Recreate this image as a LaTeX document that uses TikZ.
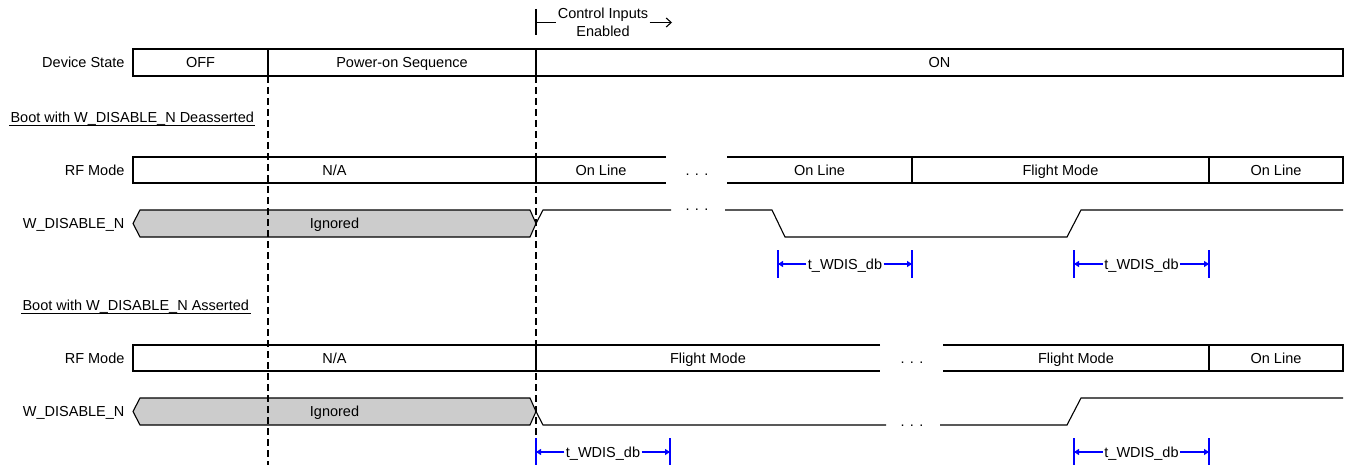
\documentclass[tikz,border=0pt]{standalone}
\usepackage{fontspec}
\setmainfont{Liberation Sans}
\usetikzlibrary{arrows.meta}

\definecolor{ignoredgray}{RGB}{204,204,204}

\begin{document}
\begin{tikzpicture}[x=1pt,y=-1pt,line width=1.1pt,
        every node/.style={font=\fontsize{14.5}{17.5}\selectfont,inner sep=1pt},
        lbl/.style={text height=10.4pt,text depth=0pt},
        rowname/.style={lbl,anchor=east},
        dashline/.style={dash pattern=on 7pt off 4pt},
        tick/.style={blue},
        tarrow/.style={blue,arrows = -{Triangle[length=5pt,width=6pt]}}]

        %\draw [help lines] (0,0) grid (1347,468);
        \useasboundingbox (0,0) rectangle (1347,468);

        % ignored spans, under the texts
        \draw[fill=ignoredgray] (133,223.5) -- (140,210) -- (530,210) -- (536,223.5) -- (530,237) -- (140,237) -- cycle;
        \draw[fill=ignoredgray] (133,411.5) -- (140,398) -- (530,398) -- (536,411.5) -- (530,425) -- (140,425) -- cycle;

        \path   (603,22.5) node (ctrl) [align=center] {Control Inputs\\Enabled}
                (126,62.5) node (dsname) [rowname] {Device State}
                (200.5,62.5) node (off) [lbl] {OFF}
                (402,62.5) node (pwr) [lbl] {Power-on Sequence}
                (939.5,62.5) node (on) [lbl] {ON}
                (9,117) node (boota) [lbl,anchor=west] {Boot with W\_DISABLE\_N Deasserted}
                (126,170) node (rfa) [rowname] {RF Mode}
                (334.5,170) node (naa) [lbl] {N/A}
                (601,170) node (onla) [lbl] {On Line}
                (697,170) node (dotsa) [lbl] {. . .}
                (819.5,170) node (onlb) [lbl] {On Line}
                (1060.5,170) node (fma) [lbl] {Flight Mode}
                (1276,170) node (onlc) [lbl] {On Line}
                (126,223.5) node (wda) [rowname] {W\_DISABLE\_N}
                (334.5,223.5) node (igna) [lbl] {Ignored}
                (697,205) node (dotsb) [lbl] {. . .}
                (845,264) node (twa) [lbl] {t\_WDIS\_db}
                (1141.5,264) node (twb) [lbl] {t\_WDIS\_db}
                (21,305) node (bootb) [lbl,anchor=west] {Boot with W\_DISABLE\_N Asserted}
                (126,358) node (rfb) [rowname] {RF Mode}
                (334.5,358) node (nab) [lbl] {N/A}
                (708,358) node (fmb) [lbl] {Flight Mode}
                (912,358) node (dotsc) [lbl] {. . .}
                (1076,358) node (fmc) [lbl] {Flight Mode}
                (1276,358) node (onld) [lbl] {On Line}
                (126,411.5) node (wdb) [rowname] {W\_DISABLE\_N}
                (334.5,411.5) node (ignb) [lbl] {Ignored}
                (912,421) node (dotsd) [lbl] {. . .}
                (603,452) node (twc) [lbl] {t\_WDIS\_db}
                (1141.5,452) node (twd) [lbl] {t\_WDIS\_db};

        \coordinate (ctrlbar) at (536,22.5);
        \coordinate (ctrlend) at (672,22.5);
        \coordinate (twal) at (778,264);
        \coordinate (twar) at (912,264);
        \coordinate (twbl) at (1074,264);
        \coordinate (twbr) at (1209,264);
        \coordinate (twcl) at (536,452);
        \coordinate (twcr) at (670,452);
        \coordinate (twdl) at (1074,452);
        \coordinate (twdr) at (1209,452);

        % control inputs marker
        \draw (536,9) -- (536,35);
        \draw (ctrlbar) -- (ctrl.west);
        \draw[arrows = -{Straight Barb[length=5pt,width=9pt]}] (ctrl.east) -- (ctrlend);

        % underlines
        \draw ([yshift=-3pt]boota.base west) -- ([yshift=-3pt]boota.base east);
        \draw ([yshift=-3pt]bootb.base west) -- ([yshift=-3pt]bootb.base east);

        % device state
        \draw (133,49) rectangle (1343,76);
        \draw (268,49) -- (268,76) (536,49) -- (536,76);
        \draw[dashline] (268,76) -- (268,465);
        \draw[dashline] (536,76) -- (536,465);

        % rf mode, deasserted
        \draw (666,157) -- (133,157) -- (133,183) -- (666,183);
        \draw (727,157) -- (1343,157) -- (1343,183) -- (727,183);
        \draw (536,157) -- (536,183) (912,157) -- (912,183) (1209,157) -- (1209,183);

        % w_disable_n, deasserted
        \draw (536,223.5) -- (543,210) -- (671,210);
        \draw (725,210) -- (772,210) -- (785,237) -- (1067,237) -- (1081,210) -- (1343,210);

        \draw[tick] (778,250) -- (778,278);
        \draw[tick] (912,250) -- (912,278);
        \draw[tick] (1074,250) -- (1074,278);
        \draw[tick] (1209,250) -- (1209,278);
        \draw[tarrow] (twa.west) -- (twal);
        \draw[tarrow] (twa.east) -- (twar);
        \draw[tarrow] (twb.west) -- (twbl);
        \draw[tarrow] (twb.east) -- (twbr);

        % rf mode, asserted
        \draw (880,345) -- (133,345) -- (133,371) -- (880,371);
        \draw (943,345) -- (1343,345) -- (1343,371) -- (943,371);
        \draw (536,345) -- (536,371) (1209,345) -- (1209,371);

        % w_disable_n, asserted
        \draw (536,411.5) -- (543,425) -- (886,425);
        \draw (940,425) -- (1067,425) -- (1081,398) -- (1343,398);

        \draw[tick] (536,438) -- (536,465);
        \draw[tick] (670,438) -- (670,465);
        \draw[tick] (1074,438) -- (1074,465);
        \draw[tick] (1209,438) -- (1209,465);
        \draw[tarrow] (twc.west) -- (twcl);
        \draw[tarrow] (twc.east) -- (twcr);
        \draw[tarrow] (twd.west) -- (twdl);
        \draw[tarrow] (twd.east) -- (twdr);

\end{tikzpicture}
\end{document}
